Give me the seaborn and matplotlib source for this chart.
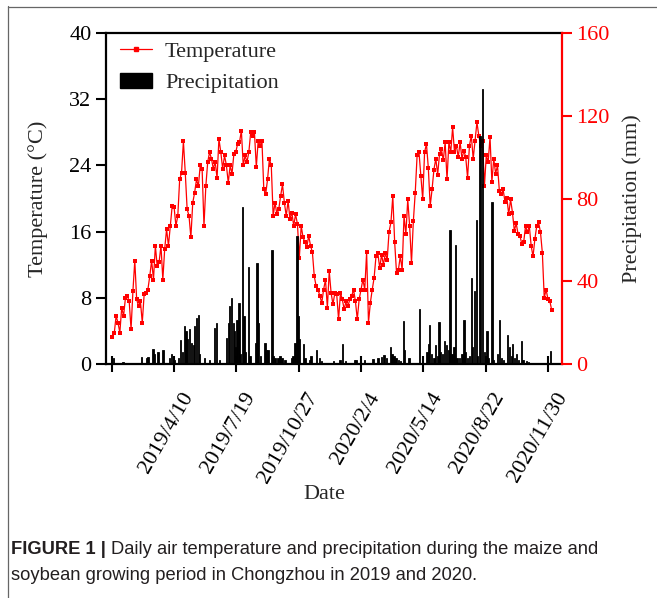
"""Daily air temperature and precipitation, Chongzhou 2019-2020."""

import matplotlib

matplotlib.use("Agg")
import matplotlib.pyplot as plt
from matplotlib.lines import Line2D
from matplotlib.patches import Patch
from matplotlib.transforms import ScaledTranslation
import numpy as np
import pandas as pd
import seaborn as sns

# temperature read every 3 days from 2019-01-01 (deg C)
start_date = "2019-01-01"
temp_step_days = 3
temperature = [
    3.3, 3.7, 5.8, 5.0, 3.8, 6.8, 5.8, 8.0, 8.2, 7.6, 4.2, 8.8, 12.5, 7.8, 7.0,
    7.6, 5.0, 8.4, 8.6, 9.0, 10.6, 12.5, 10.2, 14.3, 11.8, 12.3, 14.3, 10.2,
    13.9, 16.3, 14.3, 16.7, 19.1, 19.0, 16.7, 17.9, 22.3, 23.1, 26.9, 23.1,
    18.7, 17.9, 15.3, 19.5, 20.7, 22.3, 21.5, 24.0, 23.6, 16.7, 21.5, 24.4,
    25.6, 24.8, 23.6, 24.4, 22.5, 27.2, 25.6, 23.6, 25.2, 24.0, 21.9, 24.0,
    23.0, 25.4, 25.6, 26.6, 26.8, 28.2, 24.0, 25.2, 24.4, 25.6, 28.0, 27.6,
    28.0, 23.8, 27.0, 26.4, 27.0, 21.1, 20.5, 22.3, 24.8, 24.0, 17.9, 19.5,
    18.1, 18.7, 20.3, 21.7, 19.5, 17.9, 19.7, 17.5, 18.3, 16.7, 18.1, 16.9,
    12.8, 16.7, 15.3, 14.7, 14.1, 15.5, 14.3, 13.5, 10.6, 9.4, 9.0, 8.2, 7.4,
    9.0, 10.2, 6.8, 11.2, 8.6, 7.2, 8.6, 8.4, 5.4, 8.6, 7.8, 6.6, 7.6, 7.0,
    7.8, 8.2, 9.0, 7.6, 5.4, 7.8, 9.0, 10.2, 9.0, 13.5, 5.0, 7.4, 9.0, 10.4,
    13.0, 13.4, 11.6, 13.2, 12.0, 13.4, 12.6, 16.0, 17.1, 20.3, 14.7, 11.0,
    11.4, 13.0, 11.4, 17.9, 15.7, 19.9, 16.7, 12.2, 17.3, 20.7, 25.2, 25.6,
    22.7, 19.9, 25.6, 26.6, 23.7, 19.1, 21.1, 23.5, 24.8, 22.9, 25.4, 26.0,
    24.6, 26.8, 22.3, 26.8, 25.6, 28.6, 25.6, 26.4, 25.0, 26.8, 24.8, 25.8,
    25.0, 22.5, 26.4, 27.6, 24.8, 27.0, 29.2, 27.6, 26.4, 27.0, 21.5, 25.2,
    24.4, 27.4, 22.0, 24.8, 23.0, 24.0, 20.9, 20.5, 21.1, 19.6, 20.1, 18.1,
    19.9, 18.3, 16.1, 17.0, 15.7, 15.5, 14.5, 14.7, 16.7, 15.9, 16.7, 14.3,
    13.0, 15.1, 16.7, 17.1, 15.9, 13.4, 8.0, 9.0, 7.8, 7.6, 6.5,
]

# rain days (days after 2019-01-01) and daily precipitation (mm)
rain_day = [
    2, 17, 47, 55, 57, 65, 68, 73, 81, 92, 95, 99, 106, 109, 113, 116, 118,
    121, 124, 127, 130, 132, 135, 138, 140, 148, 156, 164, 167, 172, 183, 186,
    188, 191, 194, 196, 198, 200, 203, 206, 209, 211, 214, 218, 221, 230, 232,
    233, 235, 238, 245, 247, 250, 256, 258, 261, 266, 269, 272, 277, 287, 290,
    293, 296, 298, 300, 307, 309, 317, 319, 328, 332, 336, 355, 365, 369, 374,
    389, 391, 398, 405, 418, 426, 432, 436, 440, 446, 449, 452, 455, 459, 462,
    467, 469, 476, 493, 505, 507, 509, 512, 516, 519, 522, 524, 527, 530, 533,
    536, 539, 542, 545, 548, 551, 553, 557, 561, 564, 567, 570, 573, 576, 578,
    581, 584, 586, 590, 594, 597, 601, 604, 609, 612, 618, 621, 624, 628, 634,
    637, 640, 642, 645, 648, 652, 657, 659, 665, 668, 703,
]
rain_mm = [
    3, 1, 3.4, 3, 3.5, 7.3, 5, 6, 7, 3, 5, 2, 3, 11.8, 6, 18.2, 16,
    12, 17, 10, 9, 18.2, 22.3, 23.9, 5, 3, 2, 17.5, 20, 2, 12.6, 20,
    27.9, 32, 20, 15.8, 8, 21.5, 29.5, 5, 76, 23, 6, 46.8, 4, 10, 49,
    26, 20, 4, 10, 7, 7, 55, 4, 3, 3, 4, 3, 2, 3, 4,
    10, 62, 23, 12, 9.8, 3, 2, 4, 7, 3, 1.5, 1.5, 2, 9.8, 1.5,
    2, 2, 1, 2, 2.4, 3, 3.6, 4.4, 3, 8.1, 5, 4, 3, 2, 1.5,
    20.7, 7, 3, 26.6, 6, 9.8, 18.9, 5, 3, 9.2, 4, 20.2, 6, 5, 11,
    9, 7, 64.8, 5, 8, 57.4, 3, 3, 5, 21.5, 6, 3, 4, 41.7, 8,
    35.2, 69.6, 4, 110, 133, 6, 15.8, 3, 78.4, 2, 5, 21.5, 3, 2, 14.2,
    8, 4, 9.5, 3, 5, 2, 11.3, 2, 1.5, 1, 6.1,
]

tick_dates = [
    "2019-01-01", "2019-04-10", "2019-07-19", "2019-10-27",
    "2020-02-04", "2020-05-14", "2020-08-22", "2020-11-30",
]
tick_labels = [
    "", "2019/4/10", "2019/7/19", "2019/10/27",
    "2020/2/4", "2020/5/14", "2020/8/22", "2020/11/30",
]

caption_bold = "FIGURE 1 |"
caption_line1 = "Daily air temperature and precipitation during the maize and"
caption_line2 = "soybean growing period in Chongzhou in 2019 and 2020."

t0 = pd.Timestamp(start_date)
temp_df = pd.DataFrame({
    "date": t0 + pd.to_timedelta(np.arange(len(temperature)) * temp_step_days, unit="D"),
    "temperature": temperature,
})
rain_dates = t0 + pd.to_timedelta(rain_day, unit="D")

sns.set_style("ticks")
plt.rcParams["font.family"] = ["Liberation Serif", "DejaVu Serif"]
plt.rcParams["font.size"] = 16

fig = plt.figure(figsize=(6.57, 5.98), dpi=100)
ax = fig.add_axes([106 / 657, 1 - 364 / 598, 456 / 657, 331 / 598])
ax2 = ax.twinx()

sns.lineplot(
    data=temp_df, x="date", y="temperature", ax=ax, color="#ff0000",
    linewidth=0.9, marker="s", markersize=2.2, markeredgewidth=0,
    estimator=None, legend=False,
)
ax2.bar(rain_dates, rain_mm, width=2.2, color="black", edgecolor="black",
        linewidth=0.6)

ax.set_xlim(t0 - pd.Timedelta(days=10.2), pd.Timestamp("2020-11-30") + pd.Timedelta(days=22.5))
ax.set_ylim(0, 40)
ax.set_yticks([0, 8, 16, 24, 32, 40])
ax2.set_ylim(0, 160)
ax2.set_yticks([0, 40, 80, 120, 160])

ax.tick_params(axis="x", direction="inout", length=11, width=1.5, pad=16,
               labelsize=16, colors="black")
ax.tick_params(axis="y", direction="out", length=7, width=1.5, labelsize=16,
               colors="black")
ax2.tick_params(axis="y", direction="out", length=7, width=1.5, labelsize=16,
                colors="#ff0000")

ax.set_xticks(pd.to_datetime(tick_dates))
ax.set_xticklabels(tick_labels, rotation=60, ha="right", va="center",
                   rotation_mode="anchor")
# the date labels sit to the right of their ticks in the original
offset = ScaledTranslation(0.15, 0.0, fig.dpi_scale_trans)
for lab in ax.get_xticklabels():
    lab.set_transform(lab.get_transform() + offset)

for side in ["left", "top", "bottom"]:
    ax.spines[side].set_linewidth(1.6)
    ax.spines[side].set_color("black")
    ax2.spines[side].set_visible(False)
ax.spines["right"].set_visible(False)
ax2.spines["right"].set_linewidth(1.6)
ax2.spines["right"].set_color("#ff0000")

ax.set_xlabel("Date", fontsize=16)
ax.xaxis.set_label_coords(0.478, -0.365)
ax.set_ylabel("Temperature (\u00b0C)", fontsize=16, labelpad=15)
ax2.set_ylabel("Precipitation (mm)", fontsize=16, labelpad=9)
ax.grid(False)
ax2.grid(False)

handles = [
    Line2D([0], [0], color="#ff0000", linewidth=0.9, marker="s", markersize=2.2),
    Patch(facecolor="black", edgecolor="black"),
]
ax2.legend(handles, ["Temperature", "Precipitation"], loc="upper left",
           bbox_to_anchor=(0.022, 0.988), frameon=False, fontsize=16,
           handlelength=1.4, handletextpad=0.6, labelspacing=0.48,
           borderpad=0.2, borderaxespad=0)

# caption and frame
cap_kw = dict(family="Liberation Sans", fontsize=13.2, color="#231f20", va="center")
bold = fig.text(11 / 657, 1 - 549 / 598, caption_bold, fontweight="bold", **cap_kw)
fig.canvas.draw()
bold_end = bold.get_window_extent().x1
fig.text((bold_end + 5) / 657, 1 - 549 / 598, caption_line1, **cap_kw)
fig.text(11 / 657, 1 - 575 / 598, caption_line2, **cap_kw)
fig.add_artist(Line2D([7.5 / 657, 7.5 / 657], [0, 1 - 6 / 598],
                      transform=fig.transFigure, color="#666666", linewidth=0.9))
fig.add_artist(Line2D([7.5 / 657, 1], [1 - 6.5 / 598, 1 - 6.5 / 598],
                      transform=fig.transFigure, color="#666666", linewidth=0.9))

fig.savefig("out.png", dpi=100)
plt.close(fig)
